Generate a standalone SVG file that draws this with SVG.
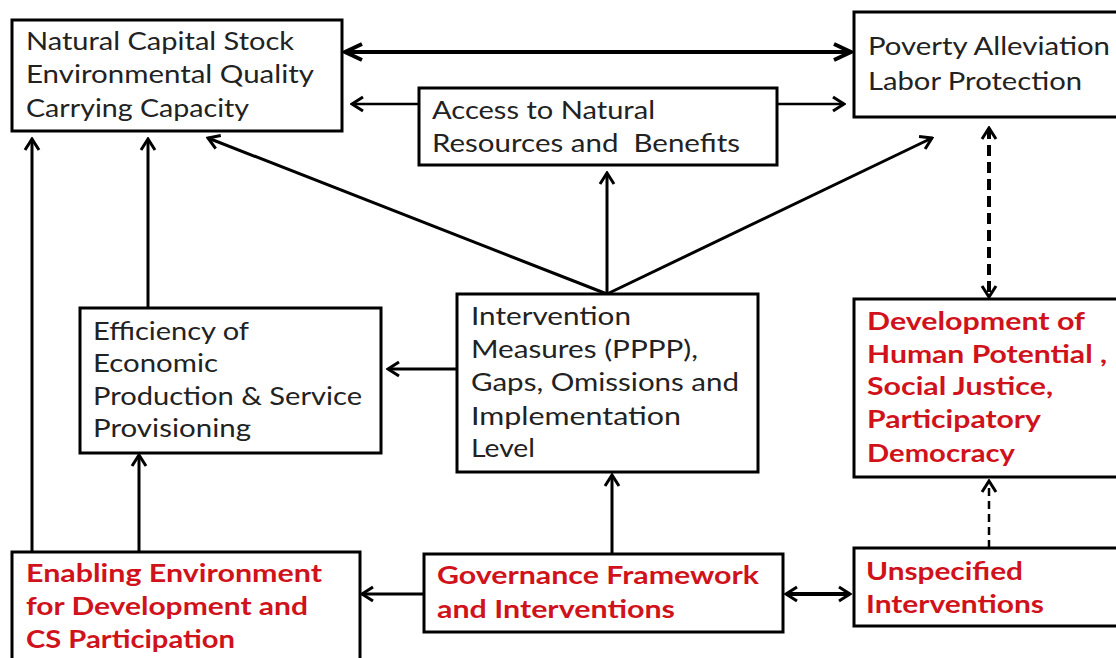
<svg xmlns="http://www.w3.org/2000/svg" width="1116" height="658" viewBox="0 0 1116 658">
<style>
.box{fill:#fff;stroke:#000;stroke-width:3}
.t{font-family:Lato,"Open Sans",sans-serif;font-size:25px;fill:#222}
.r{font-family:Lato,"Open Sans",sans-serif;font-size:25px;font-weight:bold;fill:#d0121b}
.c{fill:none;stroke:#000;stroke-width:3}
.thin{stroke-width:2.5}
.thick{stroke-width:4}
</style>
<defs>
<marker id="ah" viewBox="-14 -10 16 20" refX="0" refY="0" markerWidth="16" markerHeight="20" orient="auto-start-reverse" markerUnits="userSpaceOnUse">
<path d="M-11,-7 L0,0 L-11,7" fill="none" stroke="#000" stroke-width="3"/>
</marker>
<marker id="ahb" viewBox="-20 -12 22 24" refX="0" refY="0" markerWidth="22" markerHeight="24" orient="auto-start-reverse" markerUnits="userSpaceOnUse">
<path d="M-17,-8 L0,0 L-17,8" fill="none" stroke="#000" stroke-width="4"/>
</marker>
</defs>
<rect width="1116" height="658" fill="#fff"/>
<g id="connectors">
<line class="c thick" x1="345" y1="52" x2="851" y2="52" marker-start="url(#ahb)" marker-end="url(#ahb)"/>
<line class="c thin" x1="419" y1="104" x2="352" y2="104" marker-end="url(#ah)"/>
<line class="c thin" x1="777" y1="104" x2="844" y2="104" marker-end="url(#ah)"/>
<line class="c" x1="607" y1="294" x2="607" y2="173" marker-end="url(#ah)"/>
<line class="c" x1="607" y1="294" x2="208" y2="138" marker-end="url(#ah)"/>
<line class="c" x1="607" y1="294" x2="932" y2="138" marker-end="url(#ah)"/>
<line class="c" x1="148" y1="308" x2="148" y2="139" marker-end="url(#ah)"/>
<line class="c" x1="32" y1="552" x2="32" y2="139" marker-end="url(#ah)"/>
<line class="c" x1="139" y1="552" x2="139" y2="455" marker-end="url(#ah)"/>
<line class="c" x1="457" y1="369" x2="388" y2="369" marker-end="url(#ah)"/>
<line class="c" x1="612" y1="554" x2="612" y2="475" marker-end="url(#ah)"/>
<line class="c" x1="424" y1="594" x2="362" y2="594" marker-end="url(#ah)"/>
<line class="c thick" x1="786" y1="594" x2="850" y2="594" marker-start="url(#ah)" marker-end="url(#ah)"/>
<line class="c thick" x1="989" y1="128" x2="989" y2="297" stroke-dasharray="11 6" marker-start="url(#ah)" marker-end="url(#ah)"/>
<line class="c thin" x1="989" y1="548" x2="989" y2="481" stroke-dasharray="8 5" marker-end="url(#ah)"/>
</g>
<g id="natural-capital">
<rect class="box" x="12" y="20" width="330" height="111"/>
<text class="t" x="26" y="50" textLength="268" lengthAdjust="spacingAndGlyphs">Natural Capital Stock</text>
<text class="t" x="26" y="83" textLength="288" lengthAdjust="spacingAndGlyphs">Environmental Quality</text>
<text class="t" x="26" y="117" textLength="223" lengthAdjust="spacingAndGlyphs">Carrying Capacity</text>
</g>
<g id="access">
<rect class="box" x="419" y="88" width="358" height="77"/>
<text class="t" x="432" y="119" textLength="223" lengthAdjust="spacingAndGlyphs">Access to Natural</text>
<text class="t" x="432" y="152" xml:space="preserve" textLength="308" lengthAdjust="spacingAndGlyphs">Resources and  Benefits</text>
</g>
<g id="poverty">
<rect class="box" x="854" y="12" width="272" height="105"/>
<text class="t" x="868" y="55" textLength="242" lengthAdjust="spacingAndGlyphs">Poverty Alleviation</text>
<text class="t" x="868" y="90" textLength="214" lengthAdjust="spacingAndGlyphs">Labor Protection</text>
</g>
<g id="efficiency">
<rect class="box" x="80" y="308" width="301" height="145"/>
<text class="t" x="93" y="340" textLength="156" lengthAdjust="spacingAndGlyphs">Efficiency of</text>
<text class="t" x="93" y="372" textLength="125" lengthAdjust="spacingAndGlyphs">Economic</text>
<text class="t" x="93" y="405" textLength="269" lengthAdjust="spacingAndGlyphs">Production &amp; Service</text>
<text class="t" x="93" y="437" textLength="158" lengthAdjust="spacingAndGlyphs">Provisioning</text>
</g>
<g id="intervention">
<rect class="box" x="457" y="294" width="301" height="178"/>
<text class="t" x="471" y="325" textLength="160" lengthAdjust="spacingAndGlyphs">Intervention</text>
<text class="t" x="471" y="358" textLength="227" lengthAdjust="spacingAndGlyphs">Measures (PPPP),</text>
<text class="t" x="471" y="391" textLength="268" lengthAdjust="spacingAndGlyphs">Gaps, Omissions and</text>
<text class="t" x="471" y="425" textLength="210" lengthAdjust="spacingAndGlyphs">Implementation</text>
<text class="t" x="471" y="457" textLength="64" lengthAdjust="spacingAndGlyphs">Level</text>
</g>
<g id="development">
<rect class="box" x="854" y="299" width="272" height="178"/>
<text class="r" x="867" y="330" textLength="218" lengthAdjust="spacingAndGlyphs">Development of</text>
<text class="r" x="867" y="363" textLength="240" lengthAdjust="spacingAndGlyphs">Human Potential ,</text>
<text class="r" x="867" y="395" textLength="186" lengthAdjust="spacingAndGlyphs">Social Justice,</text>
<text class="r" x="867" y="428" textLength="174" lengthAdjust="spacingAndGlyphs">Participatory</text>
<text class="r" x="867" y="462" textLength="148" lengthAdjust="spacingAndGlyphs">Democracy</text>
</g>
<g id="enabling">
<rect class="box" x="12" y="552" width="348" height="120"/>
<text class="r" x="26" y="582" textLength="296" lengthAdjust="spacingAndGlyphs">Enabling Environment</text>
<text class="r" x="26" y="615" textLength="282" lengthAdjust="spacingAndGlyphs">for Development and</text>
<text class="r" x="26" y="648" textLength="209" lengthAdjust="spacingAndGlyphs">CS Participation</text>
</g>
<g id="governance">
<rect class="box" x="424" y="554" width="359" height="78"/>
<text class="r" x="437" y="584" textLength="322" lengthAdjust="spacingAndGlyphs">Governance Framework</text>
<text class="r" x="437" y="618" textLength="238" lengthAdjust="spacingAndGlyphs">and Interventions</text>
</g>
<g id="unspecified">
<rect class="box" x="854" y="548" width="272" height="78"/>
<text class="r" x="866" y="580" textLength="157" lengthAdjust="spacingAndGlyphs">Unspecified</text>
<text class="r" x="866" y="613" textLength="178" lengthAdjust="spacingAndGlyphs">Interventions</text>
</g>
</svg>
